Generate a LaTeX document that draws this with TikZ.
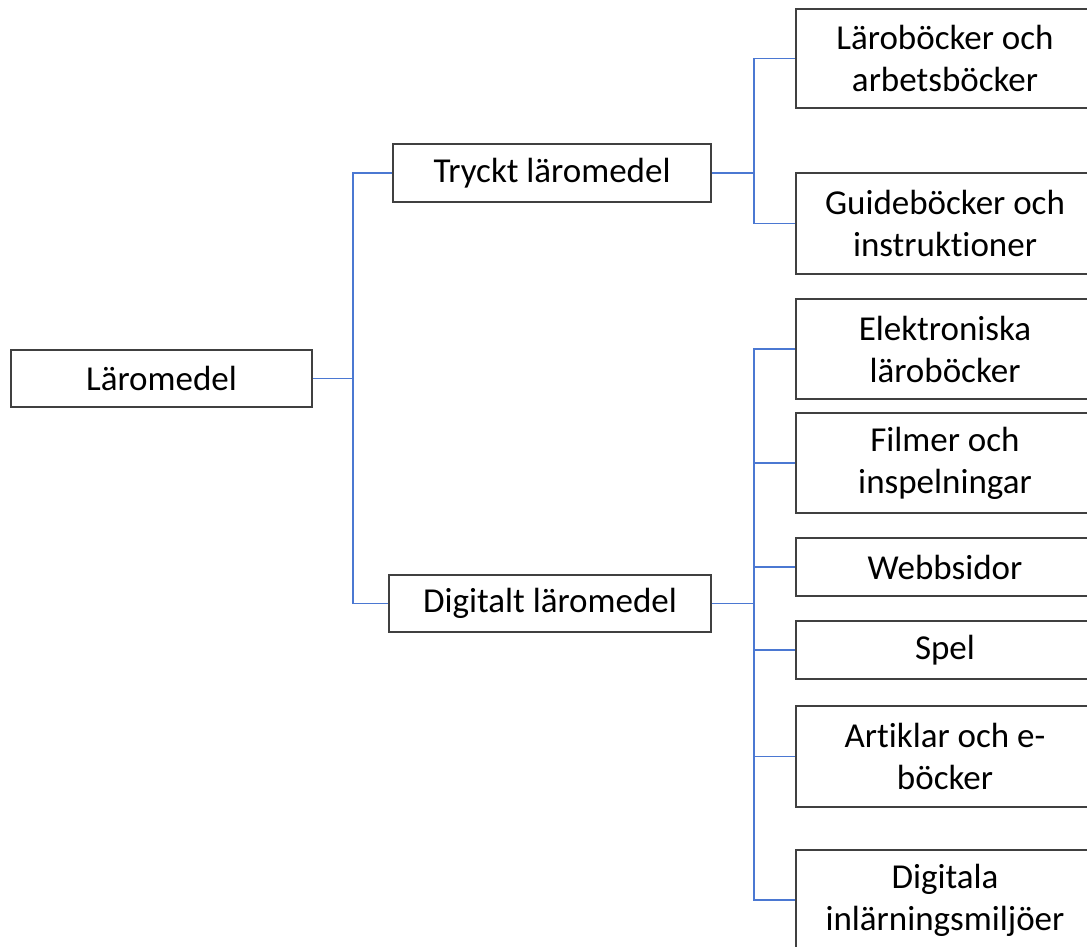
\documentclass[tikz,border=0pt]{standalone}
\usepackage{fontspec}
\setmainfont[RawFeature={-liga;-clig;-calt;-dlig}]{Carlito}
\begin{document}
\begin{tikzpicture}[x=1pt,y=-1pt,
  box/.style={draw=black!75,line width=1.5pt,fill=white,inner sep=0pt,align=center,
    font=\fontsize{35}{42}\selectfont,text=black},
  conn/.style={line width=1.6pt,color={rgb,255:red,75;green,120;blue,210}}]
\useasboundingbox (0,0) rectangle (1087,946);
\node[box,minimum width=301pt,minimum height=57pt] (lm) at (161.5,378.5) {Läromedel};
\node[box,minimum width=318pt,minimum height=58pt] (tr) at (552,173) {Tryckt läromedel};
\node[box,minimum width=322pt,minimum height=57pt] (di) at (550,603.5) {Digitalt läromedel};
\node[box,minimum width=298pt,minimum height=99pt] (a1) at (945,58.5) {Läroböcker och\\arbetsböcker};
\node[box,minimum width=298pt,minimum height=101pt] (a2) at (945,223.5) {Guideböcker och\\instrukt\kern0pt ioner};
\node[box,minimum width=298pt,minimum height=100pt] (b1) at (945,349) {Elektroniska\\läroböcker};
\node[box,minimum width=298pt,minimum height=100pt] (b2) at (945,463) {Filmer och\\inspelningar};
\node[box,minimum width=298pt,minimum height=58pt] (b3) at (945,567) {Webbsidor};
\node[box,minimum width=298pt,minimum height=58pt] (b4) at (945,650) {Spel};
\node[box,minimum width=298pt,minimum height=101pt] (b5) at (945,756.5) {Art\kern0pt iklar och e-\\böcker};
\node[box,minimum width=298pt,minimum height=100pt] (b6) at (945,900) {Digitala\\inlärningsmiljöer};
\draw[conn] (lm.east) -- ++(40,0) |- (tr.west);
\draw[conn] (lm.east) -- ++(40,0) |- (di.west);
\foreach \c in {a1,a2}{\draw[conn] (tr.east) -- ++(42,0) |- (\c.west);}
\foreach \c in {b1,b2,b3,b4,b5,b6}{\draw[conn] (di.east) -- ++(42,0) |- (\c.west);}
\end{tikzpicture}
\end{document}
